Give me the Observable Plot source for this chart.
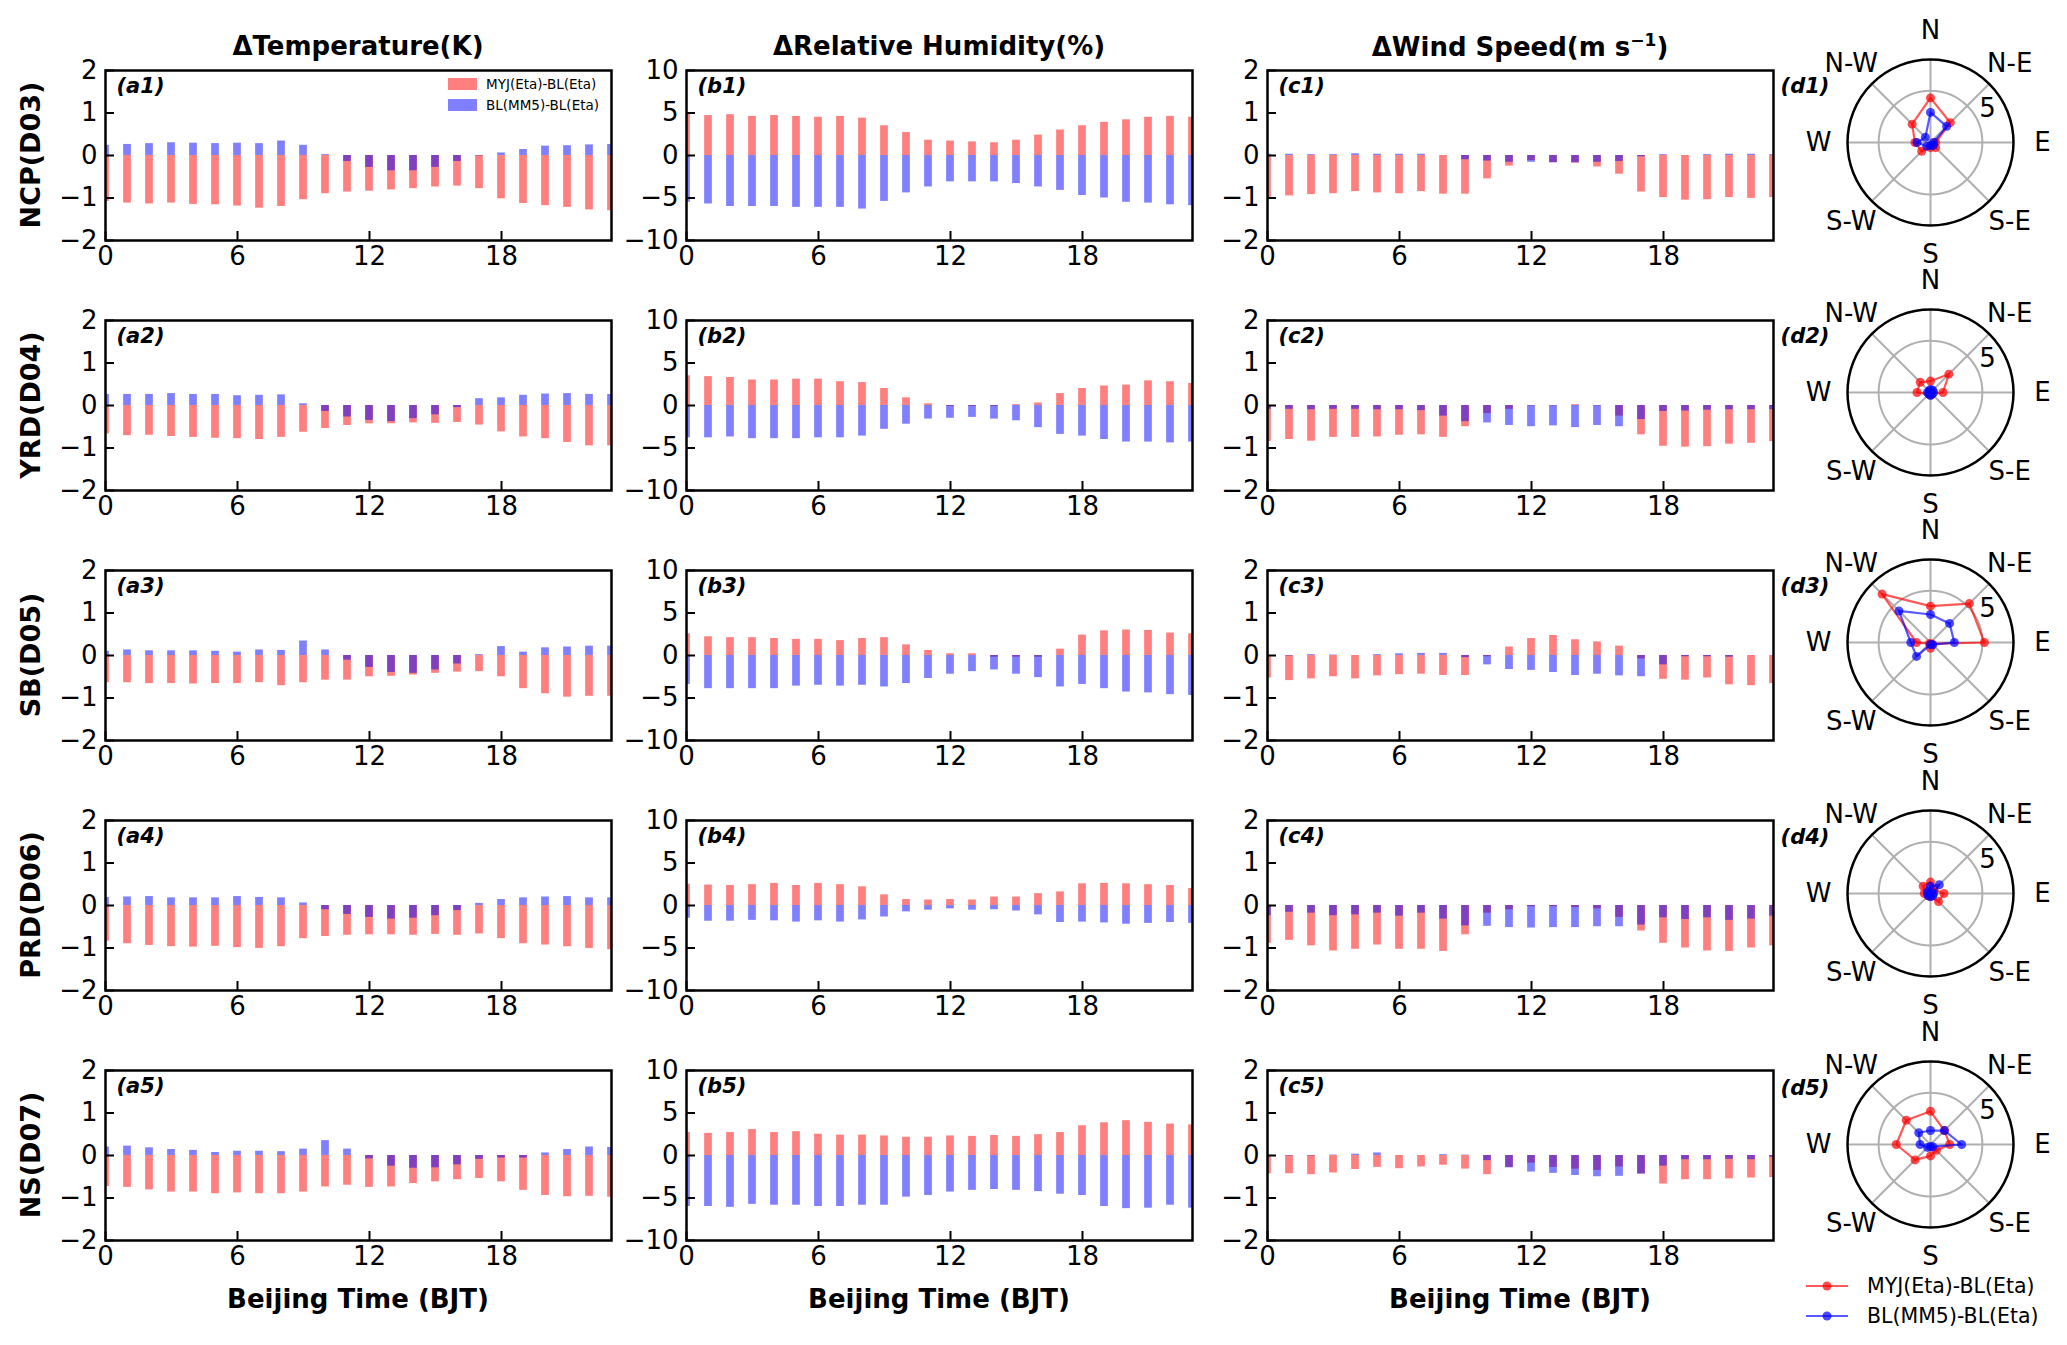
<!DOCTYPE html>
<html><head><meta charset="utf-8">
<script src="https://cdn.jsdelivr.net/npm/d3@7"></script>
<script src="https://cdn.jsdelivr.net/npm/@observablehq/plot@0.6"></script>
<style>
body{margin:0;background:#fff;}
#root{position:relative;width:2067px;height:1345px;overflow:hidden;font-family:"DejaVu Sans",sans-serif;color:#000;background:#fff;}
.abs{position:absolute;white-space:nowrap;}
.ctr{transform:translate(-50%,-50%);}
.title{font-weight:bold;font-size:26px;}
.rowlab{font-weight:bold;font-size:27px;transform:translate(-50%,-50%) rotate(-90deg);}
.plab{font-weight:bold;font-style:italic;font-size:21px;}
.leg1{font-size:13.5px;display:flex;align-items:center;}
.leg1 span{display:inline-block;width:29px;height:12px;margin-right:9px;}
.leg2{font-size:20.5px;display:flex;align-items:center;}
svg{max-width:none !important;}
</style></head><body><div id="root"></div><script>
// ---------- categories / labels ----------
const hours = [0,1,2,3,4,5,6,7,8,9,10,11,12,13,14,15,16,17,18,19,20,21,22,23];
const xTicks = [0,6,12,18];
const regions = ["NCP(D03)","YRD(D04)","SB(D05)","PRD(D06)","NS(D07)"];
const varTitles = ["ΔTemperature(K)","ΔRelative Humidity(%)","ΔWind Speed(m s<sup style='font-size:17px'>−1</sup>)"];
const panelLetters = ["a","b","c","d"];
const seriesNames = ["MYJ(Eta)-BL(Eta)","BL(MM5)-BL(Eta)"];
const yDomainT = [-2,2], yTicksT = [-2,-1,0,1,2];
const yDomainRH = [-10,10], yTicksRH = [-10,-5,0,5,10];
const yDomainWS = [-2,2], yTicksWS = [-2,-1,0,1,2];
const xLabel = "Beijing Time (BJT)";
const dirLabels = ["N","N-E","E","S-E","S","S-W","W","N-W"];
const dirAngles = [0,45,90,135,180,225,270,315];
const rTicks = [5];
const rMax = 8;

// ---------- ΔTemperature ----------
const tempMYJ = [
 [-1.08,-1.12,-1.14,-1.12,-1.15,-1.16,-1.19,-1.24,-1.2,-1.04,-0.9,-0.86,-0.84,-0.81,-0.78,-0.74,-0.72,-0.78,-1.02,-1.13,-1.18,-1.22,-1.28,-1.3],
 [-0.67,-0.71,-0.7,-0.73,-0.75,-0.77,-0.78,-0.8,-0.75,-0.63,-0.54,-0.47,-0.43,-0.43,-0.41,-0.42,-0.4,-0.46,-0.62,-0.74,-0.78,-0.87,-0.95,-0.95],
 [-0.64,-0.64,-0.66,-0.66,-0.67,-0.66,-0.66,-0.64,-0.71,-0.64,-0.58,-0.58,-0.5,-0.49,-0.46,-0.42,-0.39,-0.38,-0.5,-0.78,-0.9,-0.98,-0.96,-0.96],
 [-0.84,-0.9,-0.94,-0.97,-0.98,-0.96,-0.99,-1.01,-0.97,-0.78,-0.73,-0.7,-0.69,-0.69,-0.7,-0.68,-0.7,-0.67,-0.78,-0.9,-0.93,-0.97,-1.01,-1.04],
 [-0.73,-0.75,-0.81,-0.86,-0.86,-0.9,-0.88,-0.9,-0.9,-0.86,-0.74,-0.7,-0.75,-0.74,-0.66,-0.62,-0.57,-0.54,-0.62,-0.82,-0.94,-0.97,-0.96,-0.98]
];
const tempMM5 = [
 [0.24,0.26,0.28,0.3,0.29,0.28,0.29,0.28,0.34,0.24,0.02,-0.14,-0.28,-0.36,-0.36,-0.28,-0.14,-0.01,0.06,0.14,0.22,0.23,0.25,0.26],
 [0.26,0.26,0.26,0.28,0.26,0.26,0.23,0.24,0.25,0.04,-0.14,-0.27,-0.35,-0.38,-0.31,-0.22,-0.05,0.16,0.18,0.24,0.27,0.28,0.26,0.26],
 [0.1,0.13,0.11,0.11,0.11,0.1,0.08,0.13,0.12,0.34,0.13,-0.11,-0.28,-0.4,-0.42,-0.34,-0.2,0.02,0.21,0.08,0.18,0.2,0.22,0.22],
 [0.19,0.2,0.21,0.18,0.18,0.18,0.21,0.19,0.18,0.06,-0.1,-0.21,-0.28,-0.32,-0.3,-0.24,-0.12,0.05,0.14,0.18,0.2,0.21,0.18,0.18],
 [0.2,0.22,0.18,0.14,0.12,0.07,0.1,0.1,0.09,0.15,0.35,0.15,-0.08,-0.25,-0.3,-0.29,-0.22,-0.09,-0.06,-0.06,0.06,0.14,0.2,0.19]
];
// ---------- ΔRelative Humidity ----------
const rhMYJ = [
 [4.9,4.7,4.8,4.6,4.7,4.6,4.5,4.6,4.4,3.5,2.7,1.8,1.7,1.6,1.5,1.8,2.4,3.0,3.5,3.9,4.2,4.5,4.6,4.5],
 [3.5,3.4,3.3,3.0,3.0,3.1,3.1,2.8,2.7,2.0,0.9,0.2,-0.1,-0.1,-0.1,0.1,0.3,1.4,2.0,2.3,2.4,2.9,2.8,2.6],
 [2.55,2.2,2.1,2.1,2.0,1.9,1.9,1.75,2.0,2.1,1.25,0.6,0.2,0.2,-0.2,-0.2,-0.2,0.75,2.4,2.9,3.0,2.95,2.65,2.55],
 [2.5,2.4,2.35,2.45,2.6,2.35,2.6,2.45,2.2,1.25,0.7,0.65,0.7,0.65,1.0,1.0,1.4,1.6,2.55,2.6,2.55,2.45,2.35,2.0],
 [2.7,2.6,2.7,3.05,2.7,2.8,2.5,2.4,2.4,2.3,2.15,2.15,2.3,2.25,2.35,2.25,2.45,2.7,3.5,3.85,4.1,3.9,3.7,3.6]
];
const rhMM5 = [
 [-5.5,-5.7,-6.0,-6.0,-6.0,-6.1,-6.1,-6.1,-6.3,-5.4,-4.4,-3.7,-3.1,-3.1,-3.1,-3.3,-3.7,-4.1,-4.7,-5.0,-5.5,-5.6,-5.8,-5.9],
 [-3.8,-3.8,-3.7,-3.9,-3.9,-3.9,-3.8,-3.8,-3.6,-2.8,-2.2,-1.6,-1.5,-1.4,-1.6,-1.8,-2.6,-3.4,-3.6,-4.0,-4.3,-4.3,-4.4,-4.3],
 [-3.4,-3.9,-3.9,-3.9,-3.9,-3.6,-3.5,-3.6,-3.5,-3.7,-3.3,-2.7,-2.2,-1.9,-1.7,-2.2,-2.6,-3.7,-3.4,-3.9,-4.3,-4.4,-4.6,-4.7],
 [-1.5,-1.85,-1.85,-1.75,-1.8,-1.95,-1.8,-1.95,-1.7,-1.35,-0.75,-0.55,-0.4,-0.55,-0.5,-0.65,-1.1,-2.0,-1.95,-2.05,-2.2,-2.1,-2.0,-2.1],
 [-6.0,-6.0,-6.1,-5.75,-5.85,-5.85,-6.0,-6.0,-5.85,-5.85,-4.9,-4.7,-4.3,-4.1,-4.0,-4.1,-4.25,-4.55,-4.7,-6.0,-6.25,-6.2,-5.85,-6.2]
];
// ---------- ΔWind Speed ----------
const wsMYJ = [
 [-1.0,-0.95,-0.92,-0.9,-0.85,-0.88,-0.9,-0.85,-0.91,-0.91,-0.55,-0.25,-0.12,-0.17,-0.18,-0.27,-0.44,-0.86,-0.99,-1.05,-1.04,-0.99,-1.01,-0.99],
 [-0.85,-0.8,-0.84,-0.75,-0.75,-0.74,-0.7,-0.69,-0.75,-0.5,-0.19,-0.09,-0.01,-0.01,0.02,-0.01,-0.25,-0.69,-0.96,-0.98,-0.97,-0.91,-0.89,-0.85],
 [-0.53,-0.59,-0.55,-0.5,-0.55,-0.48,-0.45,-0.44,-0.47,-0.47,-0.03,0.2,0.4,0.47,0.37,0.32,0.22,-0.08,-0.56,-0.58,-0.53,-0.69,-0.71,-0.66],
 [-0.89,-0.82,-0.95,-1.07,-1.03,-0.93,-1.03,-1.03,-1.08,-0.69,-0.18,-0.1,-0.03,-0.03,-0.05,-0.08,-0.28,-0.6,-0.89,-1.0,-1.07,-1.08,-1.0,-0.95],
 [-0.43,-0.43,-0.45,-0.41,-0.33,-0.28,-0.31,-0.27,-0.23,-0.32,-0.45,-0.28,-0.18,-0.28,-0.32,-0.35,-0.27,-0.43,-0.67,-0.57,-0.57,-0.55,-0.53,-0.52]
];
const wsMM5 = [
 [0.03,0.03,0.02,0.02,0.04,0.03,0.03,0.03,0.0,-0.1,-0.13,-0.16,-0.16,-0.17,-0.17,-0.16,-0.14,-0.03,0.02,0.0,0.02,0.03,0.03,0.02],
 [-0.09,-0.09,-0.1,-0.09,-0.09,-0.1,-0.1,-0.12,-0.25,-0.38,-0.41,-0.47,-0.5,-0.48,-0.52,-0.47,-0.5,-0.33,-0.14,-0.13,-0.11,-0.1,-0.1,-0.1],
 [0.0,-0.01,0.02,0.01,0.0,0.02,0.04,0.05,0.05,-0.05,-0.22,-0.33,-0.35,-0.4,-0.47,-0.44,-0.48,-0.5,-0.22,-0.03,-0.03,-0.04,0.0,0.0],
 [-0.24,-0.16,-0.18,-0.24,-0.22,-0.18,-0.25,-0.18,-0.32,-0.48,-0.49,-0.52,-0.53,-0.52,-0.52,-0.5,-0.5,-0.46,-0.29,-0.33,-0.29,-0.35,-0.32,-0.25],
 [0.0,-0.01,-0.01,0.01,0.03,0.06,0.0,0.0,0.02,0.01,-0.12,-0.29,-0.39,-0.42,-0.47,-0.5,-0.49,-0.44,-0.25,-0.1,-0.1,-0.09,-0.1,-0.04]
];
// ---------- wind direction (radar), order N, N-E, E, S-E, S, S-W, W, N-W ----------
const dirMYJ = [
 [4.3,2.7,0.5,0.7,0.5,1.2,1.5,2.5],
 [1.1,2.5,1.2,0.2,0.2,0.2,1.3,1.4],
 [3.5,5.3,5.2,0.2,0.55,0.15,1.35,6.6],
 [1.1,0.5,1.3,1.1,0.3,0.3,0.6,1.0],
 [3.2,1.9,1.85,0.8,1.1,2.1,3.3,3.3]
];
const dirMM5 = [
 [2.9,2.2,0.3,0.4,0.3,0.5,1.3,0.7],
 [0.3,0.3,0.3,0.2,0.3,0.2,0.3,0.2],
 [2.7,2.6,2.3,0.3,0.2,1.9,1.9,4.3],
 [0.7,1.2,0.3,0.3,0.3,0.3,0.3,0.3],
 [1.35,1.9,3.0,0.3,0.2,0.4,1.0,1.6]
];

// ---------- layout ----------
const panelLeft = [105, 686, 1267];
const panelTop = [70, 320, 570, 820, 1070];
const panelW = 506, panelH = 170;
const polarCx = 1930, polarCy = [142, 392, 642, 893, 1144], polarR = 83;
const barW = 0.35;
const RED = "#ff0000", BLUE = "#0000ff";

const root = document.getElementById("root");
function place(node, left, top, w, h) {
  const d = document.createElement("div");
  d.className = "abs";
  d.style.left = left + "px"; d.style.top = top + "px";
  d.style.width = w + "px"; d.style.height = h + "px";
  d.appendChild(node); root.appendChild(d); return d;
}
function html(h, left, top, cls) {
  const d = document.createElement("div");
  d.className = "abs " + (cls || "");
  d.style.left = left + "px"; d.style.top = top + "px";
  d.innerHTML = h; root.appendChild(d); return d;
}
const fmt = d => (d < 0 ? "\u2212" + (-d) : String(d));
const baseStyle = {fontFamily: "DejaVu Sans", fontSize: "26px", background: "transparent", overflow: "visible", color: "#000", maxWidth: "none"};

function barPanel(redVals, blueVals, yDomain, yTicks, label) {
  const data = hours.map((h, i) => ({h, red: redVals[i], blue: blueVals[i]}));
  const ML = 80, MR = 12, MT = 10, MB = 45;
  const W = panelW + ML + MR, H = panelH + MT + MB;
  return {ML, MT, W, H, svg: Plot.plot({
    width: W, height: H,
    marginLeft: ML, marginRight: MR, marginTop: MT, marginBottom: MB,
    style: baseStyle,
    x: {domain: [0, 23], ticks: xTicks, tickSize: 0, tickPadding: 6, label: null, tickFormat: fmt},
    y: {domain: yDomain, ticks: yTicks, tickSize: 0, tickPadding: 8, label: null, tickFormat: fmt},
    marks: [
      Plot.rect(data, {x1: d => d.h - barW / 2, x2: d => d.h + barW / 2, y1: () => 0, y2: "red", fill: RED, fillOpacity: 0.5, clip: true}),
      Plot.rect(data, {x1: d => d.h - barW / 2, x2: d => d.h + barW / 2, y1: () => 0, y2: "blue", fill: BLUE, fillOpacity: 0.5, clip: true}),
      Plot.ruleX(xTicks, {x: d => d, insetTop: panelH - 9, stroke: "#000", strokeWidth: 2}),
      Plot.ruleY(yTicks, {y: d => d, insetRight: panelW - 9, stroke: "#000", strokeWidth: 2}),
      Plot.frame({stroke: "#000", strokeWidth: 2.5}),
      Plot.text([label], {frameAnchor: "top-left", dx: 11, dy: 8, text: d => d, fontWeight: "bold", fontStyle: "italic", fontSize: 21, textAnchor: "start", lineAnchor: "top"})
    ]
  })};
}

const rad = a => a * Math.PI / 180;
const POLAR_SIZE = 320;
function polarPanel(redVals, blueVals) {
  const size = POLAR_SIZE, M = size / 2 - polarR;
  const pts = vals => dirAngles.map((a, i) => ({a, r: vals[i]}));
  const px = d => d.r * Math.sin(rad(d.a)), py = d => d.r * Math.cos(rad(d.a));
  const labelR = rMax * 112 / polarR;
  return Plot.plot({
    width: size, height: size, margin: M,
    style: baseStyle,
    x: {domain: [-rMax, rMax], axis: null},
    y: {domain: [-rMax, rMax], axis: null},
    r: {type: "linear", domain: [0, rMax], range: [0, polarR]},
    marks: [
      Plot.link(dirAngles, {x1: () => 0, y1: () => 0, x2: a => rMax * Math.sin(rad(a)), y2: a => rMax * Math.cos(rad(a)), stroke: "#b0b0b0", strokeWidth: 2}),
      Plot.dot(rTicks, {x: () => 0, y: () => 0, r: d => d, fill: "none", stroke: "#b0b0b0", strokeWidth: 2}),
      Plot.dot([rMax], {x: () => 0, y: () => 0, r: d => d, fill: "none", stroke: "#000", strokeWidth: 2.5}),
      Plot.line(pts(redVals), {x: px, y: py, curve: "linear-closed", stroke: RED, strokeOpacity: 0.65, strokeWidth: 2.2}),
      Plot.dot(pts(redVals), {x: px, y: py, r: 4.5, fill: RED, fillOpacity: 0.7, stroke: "none"}),
      Plot.line(pts(blueVals), {x: px, y: py, curve: "linear-closed", stroke: BLUE, strokeOpacity: 0.65, strokeWidth: 2.2}),
      Plot.dot(pts(blueVals), {x: px, y: py, r: 4.5, fill: BLUE, fillOpacity: 0.7, stroke: "none"}),
      Plot.text(dirAngles, {x: a => labelR * Math.sin(rad(a)), y: a => labelR * Math.cos(rad(a)), text: (a, i) => dirLabels[i], fontSize: 26}),
      Plot.text(rTicks, {x: v => (v + 1.4) * Math.sin(rad(59)), y: v => (v + 1.4) * Math.cos(rad(59)), text: d => String(d), fontSize: 26})
    ]
  });
}

const groups = [
  {my: tempMYJ, mm: tempMM5, dom: yDomainT, ticks: yTicksT},
  {my: rhMYJ, mm: rhMM5, dom: yDomainRH, ticks: yTicksRH},
  {my: wsMYJ, mm: wsMM5, dom: yDomainWS, ticks: yTicksWS}
];

regions.forEach((reg, r) => {
  groups.forEach((g, c) => {
    const p = barPanel(g.my[r], g.mm[r], g.dom, g.ticks, "(" + panelLetters[c] + (r + 1) + ")");
    place(p.svg, panelLeft[c] - p.ML, panelTop[r] - p.MT, p.W, p.H);
  });
  const pol = polarPanel(dirMYJ[r], dirMM5[r]);
  place(pol, polarCx - POLAR_SIZE / 2, polarCy[r] - POLAR_SIZE / 2, POLAR_SIZE, POLAR_SIZE);
  html("(" + panelLetters[3] + (r + 1) + ")", 1805, polarCy[r] - 56, "plab ctr");
  html(reg, 30, panelTop[r] + panelH / 2, "rowlab");
});

groups.forEach((g, c) => {
  html(varTitles[c], panelLeft[c] + panelW / 2, 46, "title ctr");
  html(xLabel, panelLeft[c] + panelW / 2, 1299, "title ctr");
});

// legend inside (a1)
html("<span style='background:rgba(255,0,0,0.5)'></span>" + seriesNames[0], 448, 76, "leg1");
html("<span style='background:rgba(0,0,255,0.5)'></span>" + seriesNames[1], 448, 97, "leg1");

// radar legend
function lineKey(color) {
  return "<svg width='54' height='20' style='margin-right:9px'><line x1='2' y1='10' x2='44' y2='10' stroke='" + color +
    "' stroke-opacity='0.65' stroke-width='2.2'/><circle cx='23' cy='10' r='4.5' fill='" + color + "' fill-opacity='0.7'/></svg>";
}
html(lineKey(RED) + seriesNames[0], 1804, 1274, "leg2");
html(lineKey(BLUE) + seriesNames[1], 1804, 1304, "leg2");
</script></body></html>
